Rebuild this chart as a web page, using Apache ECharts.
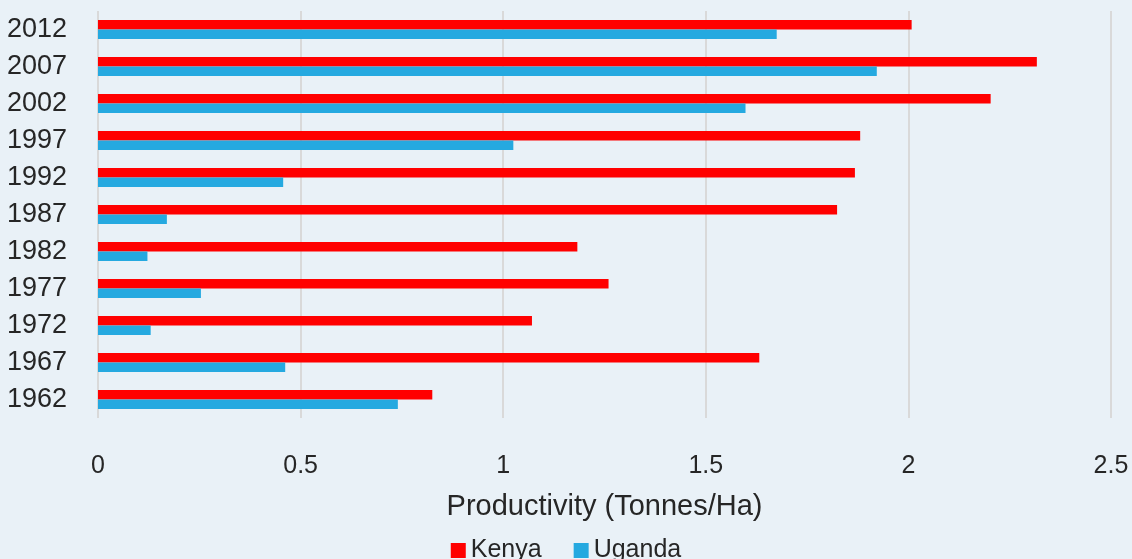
<!DOCTYPE html>
<html><head><meta charset="utf-8">
<script src="https://cdn.jsdelivr.net/npm/echarts@6/dist/echarts.min.js"></script>
<style>html,body{margin:0;padding:0;background:#e9f1f7;}#c{width:1132px;height:559px;}</style>
</head><body><div id="c"></div>
<script>
const years = ['1962','1967','1972','1977','1982','1987','1992','1997','2002','2007','2012'];
const kenya = [0.825,1.632,1.071,1.260,1.183,1.824,1.868,1.881,2.203,2.317,2.008];
const uganda = [0.740,0.462,0.130,0.254,0.122,0.170,0.457,1.025,1.598,1.922,1.675];
const xTicks = {min:0, max:2.5, interval:0.5};
const FONT = '"Liberation Sans", Arial, sans-serif';
const chart = echarts.init(document.getElementById('c'));
chart.setOption({
  backgroundColor:'#e9f1f7',
  animation:false,
  textStyle:{fontFamily:FONT},
  grid:{left:98,right:21,top:11,bottom:141},
  legend:{data:['Kenya','Uganda'],top:533,left:'center',itemWidth:15,itemHeight:15,itemGap:32,icon:'rect',
    textStyle:{fontSize:25,color:'#262626',fontFamily:FONT}},
  xAxis:{type:'value',min:xTicks.min,max:xTicks.max,interval:xTicks.interval,
    name:'Productivity (Tonnes/Ha)',nameLocation:'middle',nameGap:74,
    nameTextStyle:{fontSize:29,color:'#262626',fontFamily:FONT},
    axisLine:{show:false},axisTick:{show:false},
    axisLabel:{fontSize:25,color:'#262626',margin:36,fontFamily:FONT},
    splitLine:{show:true,lineStyle:{color:'#d9d9d9',width:2}}},
  yAxis:{type:'category',data:years,
    axisLine:{show:false},axisTick:{show:false},
    axisLabel:{fontSize:27,color:'#262626',margin:31,fontFamily:FONT}},
  series:[
    {name:'Kenya',type:'bar',data:kenya,itemStyle:{color:'#ff0000'},barGap:'0%',barCategoryGap:'48%'},
    {name:'Uganda',type:'bar',data:uganda,itemStyle:{color:'#25a9e0'},barGap:'0%',barCategoryGap:'48%'}
  ]
});
</script></body></html>
